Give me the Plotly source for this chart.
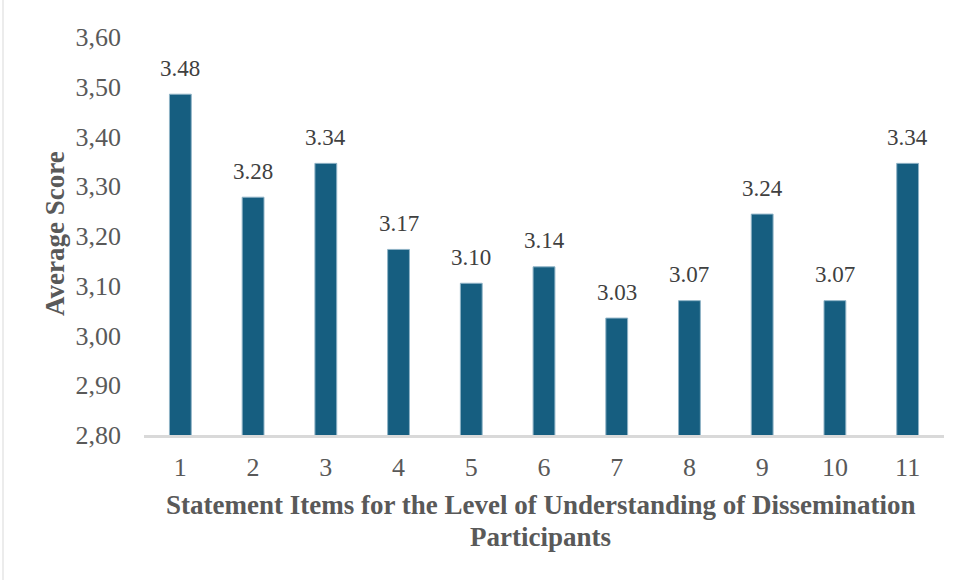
import plotly.graph_objects as go

categories = ["1", "2", "3", "4", "5", "6", "7", "8", "9", "10", "11"]
values = [3.485, 3.278, 3.346, 3.173, 3.105, 3.138, 3.035, 3.070, 3.244, 3.070, 3.346]
labels = ["3.48", "3.28", "3.34", "3.17", "3.10", "3.14", "3.03", "3.07", "3.24", "3.07", "3.34"]
y_ticks = [2.80, 2.90, 3.00, 3.10, 3.20, 3.30, 3.40, 3.50, 3.60]
x_title_lines = ["Statement Items for the Level of Understanding of Dissemination", "Participants"]
y_title = "Average Score"

FONT = "Liberation Serif, Times New Roman, serif"
W, H = 965, 580
ML, MR, MT, MB = 144, 21, 37, 145

fig = go.Figure()
fig.add_trace(go.Bar(
    x=categories, y=values,
    marker=dict(color="#165E80", line=dict(color="#8FB3C6", width=1)),
    width=0.3,
    hoverinfo="skip",
))

for i, (v, t) in enumerate(zip(values, labels)):
    fig.add_annotation(x=i, y=v, text=t, showarrow=False, xref="x", yref="y",
                       yanchor="middle", yshift=26,
                       font=dict(family=FONT, size=23, color="#404040"))

pw = W - ML - MR
ph = H - MT - MB
fig.add_annotation(text="<b>" + y_title + "</b>", textangle=-90, showarrow=False,
                   xref="paper", yref="paper", x=(55 - ML) / pw, y=(H - MB - 234) / ph,
                   xanchor="center", yanchor="middle",
                   font=dict(family=FONT, size=27, color="#595959"))
for line, ypix in zip(x_title_lines, [505, 537]):
    fig.add_annotation(text="<b>" + line + "</b>",
                       showarrow=False, xref="paper", yref="paper",
                       x=(540 - ML) / pw, y=-(ypix - (H - MB)) / ph,
                       xanchor="center", yanchor="middle",
                       font=dict(family=FONT, size=27, color="#595959"))

# thin frame line at the left edge
fig.add_shape(type="line", xref="paper", yref="paper",
              x0=(3 - ML) / pw, x1=(3 - ML) / pw, y0=-MB / ph, y1=(ph + MT) / ph,
              line=dict(color="#D9D9D9", width=1))

fig.update_layout(
    width=W, height=H,
    margin=dict(l=ML, r=MR, t=MT, b=MB),
    paper_bgcolor="white", plot_bgcolor="white",
    separators=",.",
    showlegend=False,
    font=dict(family=FONT, size=26, color="#595959"),
    xaxis=dict(type="category", range=[-0.5, 10.5], showgrid=False, showline=True,
               linecolor="#D9D9D9", linewidth=2.5,
               ticks="", ticklabelstandoff=7, tickfont=dict(size=26, color="#595959")),
    yaxis=dict(range=[2.80, 3.60], tickvals=y_ticks, tickformat=".2f", showgrid=False,
               zeroline=False, showline=False, ticks="", ticklabelstandoff=22,
               tickfont=dict(size=26, color="#595959")),
)

fig.write_html("out.html")
